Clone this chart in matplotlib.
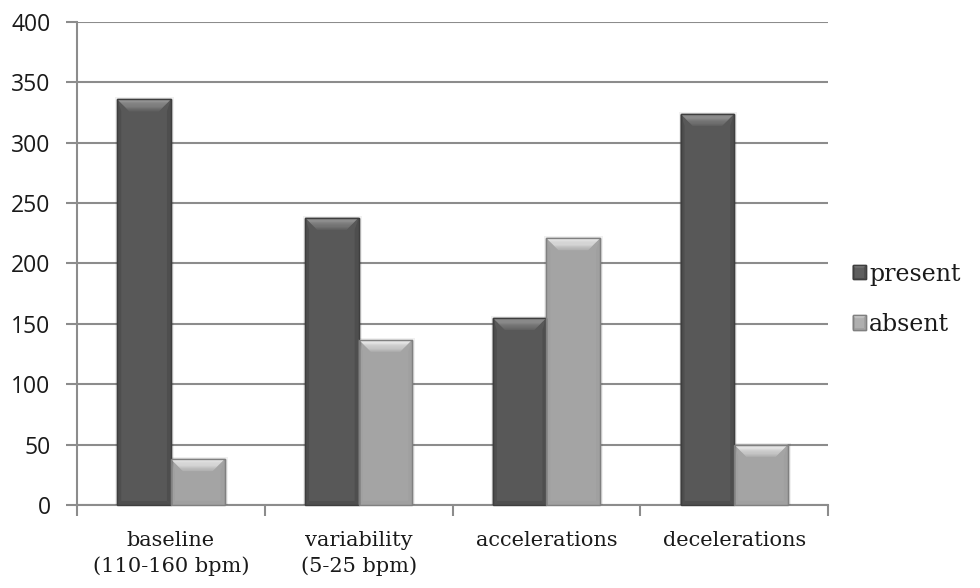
import numpy as np
import matplotlib
matplotlib.use("Agg")
import matplotlib.pyplot as plt
from matplotlib.patches import Polygon, Patch
from matplotlib.transforms import IdentityTransform

# Fetal heart-rate features: counts of traces where each feature is present / absent
categories = ["baseline\n(110-160 bpm)", "variability\n(5-25 bpm)", "accelerations", "decelerations"]
present = [336, 238, 155, 324]
absent = [38, 137, 221, 50]
series_names = ["present", "absent"]
y_ticks = [0, 50, 100, 150, 200, 250, 300, 350, 400]

# Body / edge / highlight tones for each series
styles = {
    "present": dict(body="#5e5e5e", edge="#3e3e3e", light="#a0a0a0", side="#4e4e4e"),
    "absent": dict(body="#afafaf", edge="#808080", light="#f6f6f6", side="#a0a0a0"),
}

fig = plt.figure(figsize=(9.8, 5.88), dpi=100)
ax = fig.add_axes([0.0786, 0.1412, 0.845 - 0.0786, 0.9626 - 0.1412])

x = np.arange(len(categories))
width = 1 / 3.5
offsets = [-width / 2, width / 2]
bar_sets = []
for name, vals, off in zip(series_names, [present, absent], offsets):
    st = styles[name]
    bars = ax.bar(x + off, vals, width=width, color=st["body"], edgecolor=st["edge"],
                  linewidth=1.0, zorder=3)
    bar_sets.append((name, bars))

ax.set_xlim(-0.5, len(categories) - 0.5)
ax.set_ylim(0, 400)
ax.set_yticks(y_ticks)
ax.set_yticklabels([str(v) for v in y_ticks], fontfamily="Open Sans", fontsize=16.5, color="#1a1a1a")
ax.yaxis.grid(True, color="#8c8c8c", linewidth=1.5, zorder=0)
ax.set_axisbelow(True)

# category labels sit between boundary ticks
ax.set_xticks(np.arange(len(categories) + 1) - 0.5)
ax.set_xticklabels([])
ax.set_xticks(x, minor=True)
ax.set_xticklabels(categories, minor=True, fontfamily="DejaVu Serif", fontsize=15,
                   color="#1a1a1a", linespacing=1.4)
ax.tick_params(axis="x", which="minor", length=0, pad=19)
ax.tick_params(axis="x", which="major", length=8, width=1.5, color="#8c8c8c", direction="out")
ax.tick_params(axis="y", length=8, width=1.5, color="#8c8c8c", direction="out", pad=11)

for side in ["top", "right"]:
    ax.spines[side].set_visible(False)
for side in ["left", "bottom"]:
    ax.spines[side].set_color("#8c8c8c")
    ax.spines[side].set_linewidth(1.5)


def mix(c1, c2, t):
    a = np.array(matplotlib.colors.to_rgb(c1))
    b = np.array(matplotlib.colors.to_rgb(c2))
    return tuple(a * (1 - t) + b * t)


def bevel(x0, y0, x1, y1, st, zorder, bevel_px=12, side_px=4):
    """Draw a bevelled face over a rectangle given in display pixels."""
    tr = IdentityTransform()
    bv = min(bevel_px, (y1 - y0) * 0.45)
    # darker side strips
    for poly in (
        [(x0, y0), (x0 + side_px, y0 + side_px), (x0 + side_px, y1 - bv), (x0, y1)],
        [(x1, y0), (x1 - side_px, y0 + side_px), (x1 - side_px, y1 - bv), (x1, y1)],
        [(x0, y0), (x1, y0), (x1 - side_px, y0 + side_px), (x0 + side_px, y0 + side_px)],
    ):
        fig.add_artist(Polygon(poly, closed=True, transform=tr, facecolor=st["side"],
                               edgecolor="none", zorder=zorder))
    # top bevel with a vertical gradient built from stacked bands
    n = 14
    for i in range(n):
        t0 = i / n
        t1 = (i + 1) / n
        ya = y1 - t0 * bv
        yb = y1 - t1 * bv
        col = mix(st["light"], st["body"], t0 ** 1.4)
        fig.add_artist(Polygon([(x0 + t0 * bv, ya), (x1 - t0 * bv, ya), (x1 - t1 * bv, yb),
                                (x0 + t1 * bv, yb)], closed=True, transform=tr,
                               facecolor=col, edgecolor="none", zorder=zorder))
    # outline
    fig.add_artist(Polygon([(x0, y0), (x1, y0), (x1, y1), (x0, y1)], closed=True,
                           transform=tr, facecolor="none", edgecolor=st["edge"],
                           linewidth=1.0, zorder=zorder + 0.1))


fig.canvas.draw()
for name, bars in bar_sets:
    st = styles[name]
    for b in bars:
        ext = b.get_window_extent()
        # soft shadow halo
        fig.add_artist(Polygon([(ext.x0 - 2, ext.y0), (ext.x1 + 3, ext.y0), (ext.x1 + 3, ext.y1 + 2),
                                (ext.x0 - 2, ext.y1 + 2)], closed=True, transform=IdentityTransform(),
                               facecolor="#000000", alpha=0.06, edgecolor="none", zorder=2))
        bevel(ext.x0, ext.y0, ext.x1, ext.y1, st, zorder=4)

# Legend with small bevelled squares
leg_handles = [Patch(facecolor=styles[n]["body"], edgecolor=styles[n]["edge"]) for n in series_names]
leg = fig.legend(leg_handles, series_names, loc="center left", bbox_to_anchor=(0.858, 0.491),
                 frameon=False, prop=dict(family="DejaVu Serif", size=17),
                 handlelength=0.55, handleheight=0.55, handletextpad=0.15, labelspacing=1.15,
                 borderpad=0)
for t in leg.get_texts():
    t.set_color("#1a1a1a")

fig.canvas.draw()
for name, h in zip(series_names, leg.legend_handles):
    ext = h.get_window_extent()
    bevel(ext.x0, ext.y0, ext.x1, ext.y1, styles[name], zorder=10, bevel_px=3, side_px=1.5)

fig.savefig("out.png", dpi=100, facecolor="white")
